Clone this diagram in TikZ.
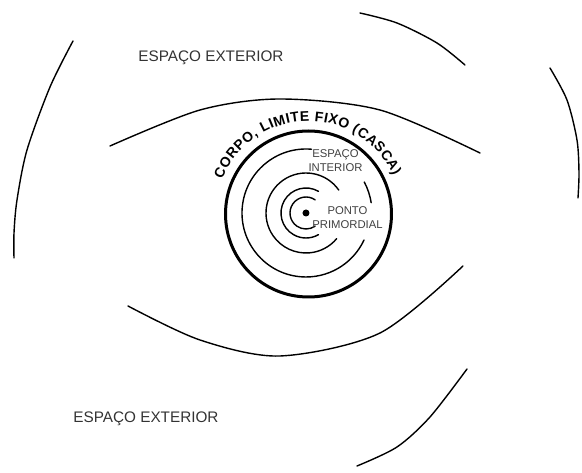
\documentclass[tikz,border=0pt]{standalone}
\usepackage{fontspec}
\setmainfont{Liberation Sans}
\usetikzlibrary{decorations.text}
\newcommand{\exteriorfonte}{\fontsize{15.3pt}{18pt}\selectfont}
\newcommand{\interiorfonte}{\fontsize{11.3pt}{14pt}\selectfont}
\newcommand{\cascafonte}{\fontsize{14pt}{17pt}\selectfont\bfseries}
\begin{document}
\begin{tikzpicture}[x=1pt, y=1pt, line cap=round, line join=round, line width=1.4pt,
	exterior/.style={font=\exteriorfonte, text=black!80, inner sep=0pt, anchor=base},
	interior/.style={font=\interiorfonte, text=black!75, align=center, inner sep=0pt}]
				\useasboundingbox (-306, -260) rectangle (276, 213);
				\coordinate (P) at (0, 0);
				\coordinate (C) at (2.5, -1);
				\draw[line width=3pt] (C) circle (83);
				\draw (P) ++(85:64) arc (85:335:64);
				\draw (P) ++(9:66) arc (9:28:66);
				\draw (P) ++(35:40) arc (35:320:40);
				\draw (P) ++(60:25) arc (60:300:25);
				\draw (P) ++(55:16) arc (55:305:16);
				\fill (P) circle (3.5);
				\draw plot[smooth] coordinates {(-196, 67) (-106, 103) (-26, 114) (74, 103) (174, 60)};
				\draw plot[smooth] coordinates {(-178, -93) (-106, -127) (-26, -143) (74, -120) (157, -53)};
				\draw plot[smooth] coordinates {(-233, 172) (-256, 126) (-279, 63) (-289, 13) (-292, -20) (-292, -45)};
				\draw plot[smooth] coordinates {(54, 200) (91, 190) (131, 170) (159, 148)};
				\draw plot[smooth] coordinates {(244, 145) (261, 113) (271, 73) (273, 40) (272, 15)};
				\draw plot[smooth] coordinates {(161, -156) (124, -204) (91, -234) (51, -253)};
				\path[decorate, decoration={text along path, text align=fit to path,
					text={|\cascafonte|CORPO, LIMITE FIXO (CASCA)}}] (C) ++(158:93) arc (158:24:93);
				\node[exterior] (exterior1) at (-95, 151) {ESPAÇO EXTERIOR};
				\node[exterior] (exterior2) at (-160, -210) {ESPAÇO EXTERIOR};
				\node[interior] (interior) at (29.5, 52) {ESPAÇO\\INTERIOR};
				\node[interior] (primordial) at (41.5, -4.5) {PONTO\\PRIMORDIAL};
			\end{tikzpicture}
\end{document}
